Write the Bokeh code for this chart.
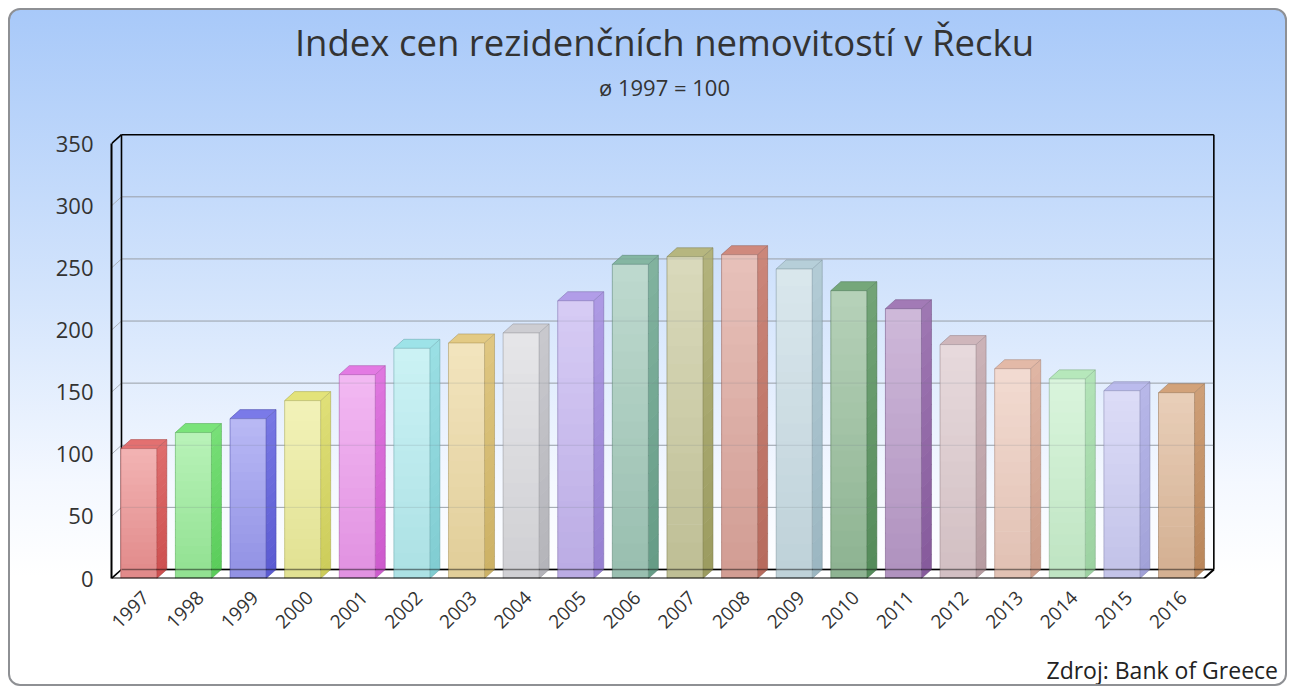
import math
from bokeh.plotting import figure
from bokeh.models import Range1d, FixedTicker, Title, Div
from bokeh.layouts import column
from bokeh.embed import file_html
from bokeh.resources import INLINE

# ---------------- data ----------------
years = ["1997", "1998", "1999", "2000", "2001", "2002", "2003", "2004", "2005", "2006",
         "2007", "2008", "2009", "2010", "2011", "2012", "2013", "2014", "2015", "2016"]
index_values = [104.6, 117.5, 128.7, 143.2, 164.1, 185.3, 189.6, 197.7, 223.6, 252.9,
                259.0, 260.7, 249.2, 231.7, 217.2, 188.3, 168.9, 160.7, 151.2, 149.6]
bar_colors = ["#ec9090", "#98ec98", "#9898f0", "#ecec98", "#ec98ec", "#b4ecf0", "#ecd8a0",
              "#dadade", "#c4b4f0", "#a0c8b8", "#c8c89c", "#dca49a", "#c8dce4", "#94bc98",
              "#b898c8", "#dcc8cc", "#eccabc", "#c8f0cc", "#ccccf4", "#deb898"]
y_ticks = [0, 50, 100, 150, 200, 250, 300, 350]
title_text = "Index cen rezidenčních nemovitostí v Řecku"
subtitle_text = "ø 1997 = 100"
source_text = "Zdroj: Bank of Greece"

FONT = "Open Sans"

# ---------------- geometry (data units) ----------------
DX = 0.183     # depth offset in x
DY = 7.24      # depth offset in y
HW = 0.33      # half width of front face
X0, X1 = -0.5, len(years) - 0.5
YMAX = 350
NAN = float("nan")


def hex2rgb(h):
    h = h.lstrip("#")
    return [int(h[i:i + 2], 16) for i in (0, 2, 4)]


def rgb2hex(c):
    return "#%02x%02x%02x" % tuple(max(0, min(255, int(round(v)))) for v in c)


def mix(a, b, t):
    return [a[k] * (1 - t) + b[k] * t for k in range(3)]


WHITE = [255, 255, 255]
BLACK = [0, 0, 0]

p = figure(width=1275, height=640, output_backend="svg", toolbar_location=None,
           x_range=Range1d(X0, 19.75), y_range=Range1d(0, 359.0),
           min_border_left=101, min_border_right=68, min_border_top=122, min_border_bottom=72)
p.border_fill_color = None
p.background_fill_color = None
p.outline_line_color = None
p.grid.grid_line_color = None

# titles
p.add_layout(Title(text=subtitle_text, align="center", text_font=FONT, text_font_size="22px",
                   text_font_style="normal", text_color="#333333", vertical_align="top",
                   standoff=57), "above")
p.add_layout(Title(text=title_text, align="center", text_font=FONT, text_font_size="36.5px",
                   text_font_style="normal", text_color="#333333", standoff=-46), "above")

# axes
p.yaxis.ticker = FixedTicker(ticks=y_ticks)
p.yaxis.bounds = (0, YMAX)
p.yaxis.axis_line_color = "black"
p.yaxis.axis_line_width = 2
p.yaxis.major_tick_line_color = None
p.yaxis.minor_tick_line_color = None
p.yaxis.major_label_standoff = 12
p.yaxis.major_label_text_font = FONT
p.yaxis.major_label_text_font_size = "22px"
p.yaxis.major_label_text_color = "#333333"

label_pos = [i + 0.13 for i in range(len(years))]
p.xaxis.ticker = FixedTicker(ticks=label_pos)
p.xaxis.major_label_overrides = {c: y for c, y in zip(label_pos, years)}
p.xaxis.major_label_orientation = math.pi / 4
p.xaxis.axis_line_color = None
p.xaxis.major_tick_line_color = None
p.xaxis.minor_tick_line_color = None
p.xaxis.major_label_standoff = 10
p.xaxis.major_label_text_font = FONT
p.xaxis.major_label_text_font_size = "19px"
p.xaxis.major_label_text_color = "#333333"

# floor
p.patch([X0, X1, X1 + DX, X0 + DX], [0, 0, DY, DY], fill_color="white", line_color=None)

# back-plane grid + left wall diagonals
grid_vals = [v for v in y_ticks if 0 < v < YMAX]
gx = [[X0 + DX, X1 + DX] for v in grid_vals]
gy = [[v + DY, v + DY] for v in grid_vals]
GRID = "#aab0b8"
p.multi_line(gx, gy, line_color=GRID, line_width=1)
p.multi_line([[X0, X0 + DX] for v in grid_vals], [[v, v + DY] for v in grid_vals],
             line_color=GRID, line_width=1)

# frame lines (back)
p.multi_line([[X0 + DX, X1 + DX], [X0 + DX, X0 + DX], [X0 + DX, X1 + DX], [X1 + DX, X1 + DX], [X0, X0 + DX], [X0, X0 + DX]],
             [[DY, DY], [DY, YMAX + DY], [YMAX + DY, YMAX + DY], [DY, YMAX + DY], [YMAX, YMAX + DY], [0, DY]],
             line_color="black", line_width=1.6)

# bars with vertical gradients
N = 18
fq = dict(left=[], right=[], bottom=[], top=[], color=[])
sx, sy, sc = [], [], []
tx, ty, tc = [], [], []
ox, oy, oc = [], [], []
for i, (v, col) in enumerate(zip(index_values, bar_colors)):
    base = hex2rgb(col)
    f_top = mix(base, WHITE, 0.32)
    f_bot = mix(base, BLACK, 0.05)
    side = [base[k] - 0.45 * (255 - base[k]) - 10 for k in range(3)]
    s_top = mix(side, WHITE, 0.15)
    s_bot = mix(side, BLACK, 0.06)
    topf = [base[k] - 0.25 * (255 - base[k]) - 4 for k in range(3)]
    l, r = i - HW, i + HW
    for k in range(N):
        y0 = v * k / N
        y1 = min(v, v * (k + 1) / N + 0.6)
        t = (k + 0.5) / N
        fq["left"].append(l)
        fq["right"].append(r)
        fq["bottom"].append(y0)
        fq["top"].append(y1)
        fq["color"].append(rgb2hex(mix(f_bot, f_top, t)))
        sx.append([r, r + DX, r + DX, r])
        sy.append([y0, y0 + DY, y1 + DY, y1])
        sc.append(rgb2hex(mix(s_bot, s_top, t)))
    tx.append([l, r, r + DX, l + DX])
    ty.append([v, v, v + DY, v + DY])
    tc.append(rgb2hex(topf))
    ox.append([l, l, l + DX, r + DX, r + DX, r, r, l, NAN, r, r + DX])
    oy.append([0, v, v + DY, v + DY, DY, 0, v, v, NAN, v, v + DY])
    oc.append(rgb2hex(mix(side, BLACK, 0.25)))

p.quad(left="left", right="right", bottom="bottom", top="top", color="color", source=fq, line_color=None)
p.patches(sx, sy, fill_color=sc, line_color=None)
p.patches(tx, ty, fill_color=tc, line_color=None)
p.multi_line(ox, oy, line_color=oc, line_width=1, line_alpha=0.5)

# see-through overlay of the back plane
p.multi_line(gx, gy, line_color="#6e7680", line_width=1, line_alpha=0.2)
p.line([X0 + DX, X1 + DX], [DY, DY], line_color="black", line_width=1.6, line_alpha=0.45)

# front bottom edges
p.multi_line([[X0, X1], [X1, X1 + DX]], [[0, 0], [0, DY]], line_color="black", line_width=2)

# source note
footer = Div(text=source_text, width=1275, height=34, sizing_mode="fixed",
             styles={"text-align": "right", "font-family": FONT, "font-size": "23px",
                     "color": "#222222", "line-height": "26px", "padding-right": "12px",
                     "padding-top": "2px", "box-sizing": "border-box", "white-space": "nowrap"})

layout = column(p, footer, spacing=0, width=1279, height=678, sizing_mode="fixed", styles={
    "background": "linear-gradient(to bottom, #a8c9f9 0%, #d3e4fc 42%, #f4f8ff 70%, #ffffff 84%)",
    "border": "2px solid #8e9094",
    "border-radius": "12px",
    "margin-left": "8px",
    "margin-top": "8px",
    "overflow": "hidden",
})

open("out.html", "w").write(file_html(layout, INLINE))
